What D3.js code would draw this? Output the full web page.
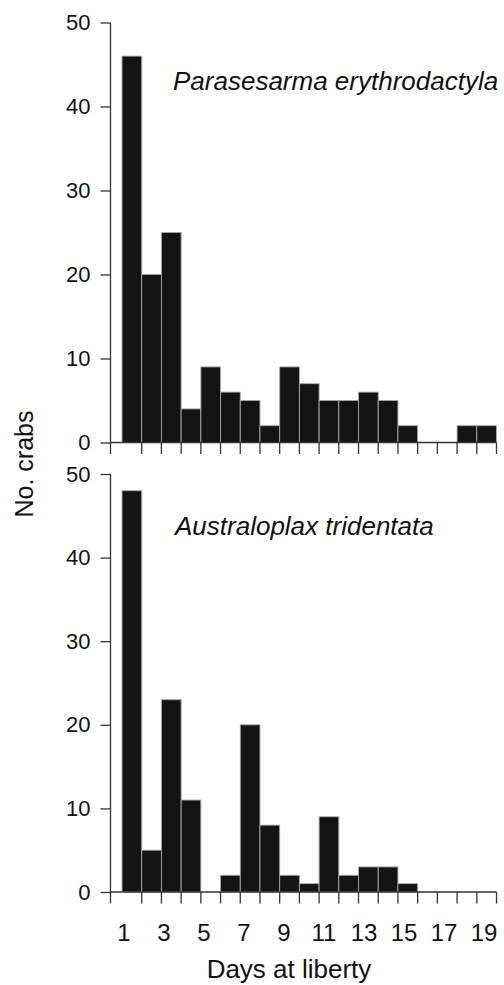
<!DOCTYPE html>
<html>
<head>
<meta charset="utf-8">
<script src="https://cdn.jsdelivr.net/npm/d3@7"></script>
<style>
  html, body { margin: 0; padding: 0; background: #fff; }
  svg { display: block; }
  text { font-family: "Liberation Sans", Arial, Helvetica, sans-serif; fill: #111; }
</style>
</head>
<body>
<svg id="chart" width="504" height="985"></svg>
<script>
// ---- data ----
const days = [1,2,3,4,5,6,7,8,9,10,11,12,13,14,15,16,17,18,19];
const parasesarma = [46,20,25,4,9,6,5,2,9,7,5,5,6,5,2,0,0,2,2];
const australoplax = [48,5,23,11,0,2,20,8,2,1,9,2,3,3,1,0,0,0,0];
const yTicks = [0,10,20,30,40,50];
const xTickLabels = [1,3,5,7,9,11,13,15,17,19];
const speciesNames = ["Parasesarma erythrodactyla", "Australoplax tridentata"];
const xTitle = "Days at liberty";
const yTitle = "No. crabs";

// ---- layout ----
const svg = d3.select("#chart");
const axisX0 = 110.5;           // y-axis position (origin)
const x = d3.scaleLinear().domain([0, 19]).range([122, 496.5]);
const xLabel = d3.scaleLinear().domain([1, 19]).range([124, 484]);
const tickLen = 11.5;
const axisColor = "#333";

const panels = [
  { values: parasesarma, name: speciesNames[0], y: d3.scaleLinear().domain([0, 50]).range([442.5, 22.5]), labelX: 173, labelY: 90 },
  { values: australoplax, name: speciesNames[1], y: d3.scaleLinear().domain([0, 50]).range([892, 474]), labelX: 175, labelY: 535 }
];

panels.forEach((p, pi) => {
  const g = svg.append("g");
  const y = p.y;
  const y0 = y(0);

  // bars
  g.selectAll("rect.bar")
    .data(days.map((d, i) => ({ day: d, v: p.values[i] })).filter(d => d.v > 0))
    .enter().append("rect")
    .attr("class", "bar")
    .attr("x", d => x(d.day - 1))
    .attr("width", d => x(d.day) - x(d.day - 1))
    .attr("y", d => y(d.v))
    .attr("height", d => y0 - y(d.v))
    .attr("fill", "#141414")
    .attr("stroke", "#a8a8a8")
    .attr("stroke-width", 0.9);

  // y axis
  const yAxis = d3.axisLeft(y).tickValues(yTicks).tickSize(10).tickPadding(10).tickFormat(d3.format("d"));
  const ya = g.append("g").attr("transform", `translate(${axisX0},0)`).call(yAxis);
  ya.select(".domain").remove();
  ya.selectAll(".tick line").attr("stroke", axisColor).attr("stroke-width", 1.3);
  ya.selectAll(".tick text")
    .style("font-family", "'Liberation Sans', Arial, sans-serif")
    .style("font-size", "22px").attr("fill", "#111");

  // y-axis line (extends below the x axis as the origin tick)
  g.append("line")
    .attr("x1", axisX0).attr("x2", axisX0)
    .attr("y1", y(50)).attr("y2", y0 + tickLen)
    .attr("stroke", axisColor).attr("stroke-width", 1.3);

  // x axis line
  g.append("line")
    .attr("x1", axisX0).attr("x2", x(19))
    .attr("y1", y0).attr("y2", y0)
    .attr("stroke", axisColor).attr("stroke-width", 1.3);

  // x ticks at bin edges
  g.selectAll("line.xt")
    .data(days)
    .enter().append("line")
    .attr("class", "xt")
    .attr("x1", d => x(d)).attr("x2", d => x(d))
    .attr("y1", y0).attr("y2", y0 + tickLen)
    .attr("stroke", axisColor).attr("stroke-width", 1.3);

  // species label
  g.append("text")
    .attr("x", p.labelX).attr("y", p.labelY)
    .style("font-style", "italic")
    .style("font-size", "26px")
    .text(p.name);

  // x tick labels only on bottom panel
  if (pi === 1) {
    g.selectAll("text.xl")
      .data(xTickLabels)
      .enter().append("text")
      .attr("class", "xl")
      .attr("x", d => xLabel(d))
      .attr("y", 941)
      .attr("text-anchor", "middle")
      .style("font-size", "24px")
      .text(d => d);
  }
});

// axis titles
svg.append("text")
  .attr("x", 289).attr("y", 978)
  .attr("text-anchor", "middle")
  .style("font-size", "26px")
  .text(xTitle);

svg.append("text")
  .attr("transform", "translate(33,464) rotate(-90)")
  .attr("text-anchor", "middle")
  .style("font-size", "25px")
  .text(yTitle);
</script>
</body>
</html>
